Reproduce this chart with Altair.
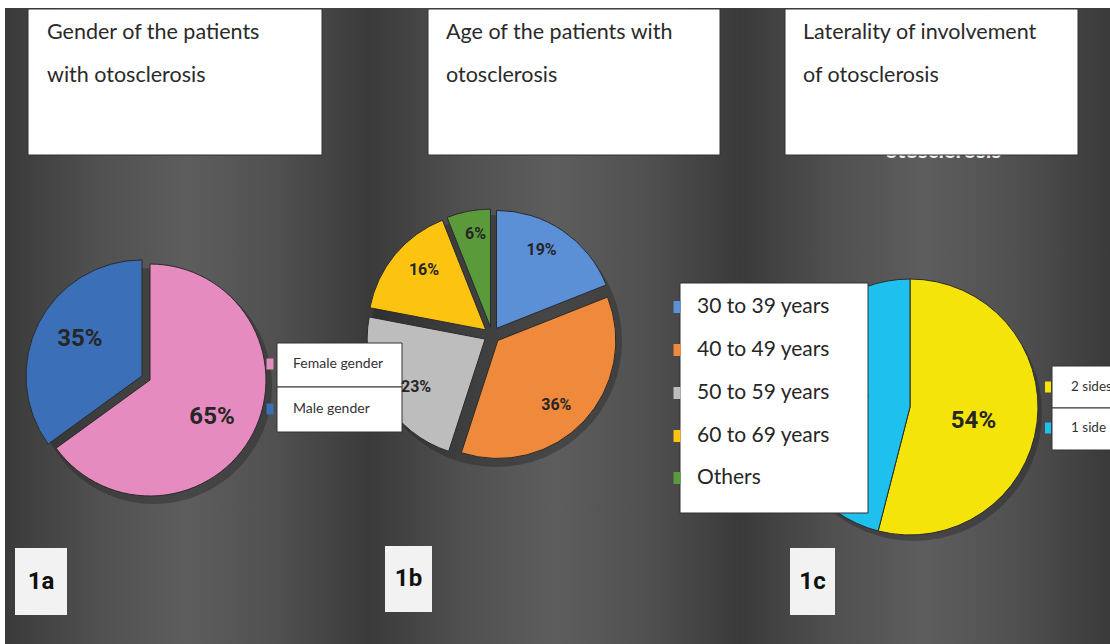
import altair as alt
import pandas as pd
import numpy as np

W, H = 1110, 644

# ---- data ----
gender_cats = ["Female gender", "Male gender"]
gender_vals = [65, 35]

age_cats = ["30 to 39 years", "40 to 49 years", "50 to 59 years", "60 to 69 years", "Others"]
age_vals = [19, 36, 23, 16, 6]

side_cats = ["2 sides", "1 side"]
side_vals = [54, 46]

titles = [["Gender of the patients", "with otosclerosis"],
          ["Age of the patients with", "otosclerosis"],
          ["Laterality of involvement", "of otosclerosis"]]
panel_tags = ["1a", "1b", "1c"]

# ---- styles ----
gender_colors = ["#e58bbf", "#3b6fb7"]
age_colors = ["#5b8fd6", "#ef893b", "#bdbdbd", "#fcc411", "#5a9a3a"]
side_colors = ["#f4e40a", "#1ec0ee"]

NARROW = "Roboto, sans-serif"
BODY = "Lato, Open Sans, sans-serif"

xs = alt.Scale(domain=[0, W], nice=False, zero=False)
ys = alt.Scale(domain=[H, 0], nice=False, zero=False)
ts = alt.Scale(domain=[0, 100], range=[0, 2 * np.pi])


def X(f):
    return alt.X(f, type="quantitative", scale=xs, axis=None)


def Y(f):
    return alt.Y(f, type="quantitative", scale=ys, axis=None)


def pie_df(cats, vals, cx, cy, r, explode, fx, fy):
    v = np.array(vals, dtype=float)
    end = np.cumsum(v)
    start = end - v
    mid = (start + end) / 2 / 100 * 2 * np.pi
    ex = np.array(explode, dtype=float)
    ox = cx + ex * np.sin(mid)
    oy = cy - ex * np.cos(mid)
    return pd.DataFrame({
        "cat": cats, "val": v, "start": start, "end": end,
        "cx": ox, "cy": oy,
        "lx": ox + fx * r * np.sin(mid), "ly": oy - fy * r * np.cos(mid),
        "label": [f"{int(x)}%" for x in v],
    })


def pie_layers(df, cats, colors, r, label_size=24):
    arc = alt.Chart(df).mark_arc(outerRadius=r, stroke="#2b2b2b", strokeWidth=1).encode(
        x=X("cx"), y=Y("cy"),
        theta=alt.Theta("start:Q", scale=ts), theta2="end:Q",
        color=alt.Color("cat:N", scale=alt.Scale(domain=cats, range=colors), legend=None),
    )
    lab = alt.Chart(df).mark_text(font=NARROW, fontWeight="bold", fontSize=label_size,
                                  color="#262626").encode(x=X("lx"), y=Y("ly"), text="label:N")
    return arc, lab


# ---- background panels ----
bg = pd.DataFrame({"x": [5, 370, 740], "x2": [370, 740, W], "y": [8, 8, 8], "y2": [H, H, H]})
grad = alt.Gradient(gradient="linear", x1=0, x2=1, y1=0, y2=0,
                    stops=[alt.GradientStop(color="#3a3a3a", offset=0),
                           alt.GradientStop(color="#505050", offset=0.25),
                           alt.GradientStop(color="#5d5d5d", offset=0.5),
                           alt.GradientStop(color="#505050", offset=0.75),
                           alt.GradientStop(color="#3a3a3a", offset=1)])
bg_layer = alt.Chart(bg).mark_rect(fill=grad).encode(x=X("x"), x2="x2", y=Y("y"), y2="y2")

# ghost text behind third title box
ghost = alt.Chart(pd.DataFrame({"x": [943], "y": [151], "t": ["otosclerosis"]})).mark_text(
    font=BODY, fontWeight="bold", fontSize=22, color="#f0f0f0").encode(x=X("x"), y=Y("y"), text="t:N")

# ---- title boxes ----
tb = pd.DataFrame({"x": [28, 428, 785], "x2": [322, 720, 1078], "y": [9, 9, 9], "y2": [155, 155, 155]})
tbox = alt.Chart(tb).mark_rect(fill="white", stroke="#333333", strokeWidth=1).encode(
    x=X("x"), x2="x2", y=Y("y"), y2="y2")
tt_rows = []
for i, lx in enumerate([47, 446, 803]):
    for j, line in enumerate(titles[i]):
        tt_rows.append({"x": lx, "y": 33 + 43 * j, "t": line})
ttext = alt.Chart(pd.DataFrame(tt_rows)).mark_text(
    font=BODY, fontSize=21.5, color="#2a2a2a", align="left", baseline="middle").encode(
    x=X("x"), y=Y("y"), text="t:N")

# ---- pies ----
R1, R2, R3 = 116, 118, 128
d1 = pie_df(gender_cats, gender_vals, 150, 380, R1, [0, 9], 0.60, 0.70)
d2 = pie_df(age_cats, age_vals, 492, 335, R2, [8, 8, 8, 8, 8], 0.68, 0.80)
d3 = pie_df(side_cats, side_vals, 910, 407, R3, [0, 0], 0.50, 0.90)

shadow_df = pd.DataFrame({"cx": [154, 496, 914], "cy": [386, 341, 413], "s": [0, 0, 0], "e": [100, 100, 100],
                          "r": [R1 + 2, R2 + 8, R3]})
shadows = alt.Chart(shadow_df).mark_arc(color="#1e1e1e", opacity=0.35).encode(
    x=X("cx"), y=Y("cy"), theta=alt.Theta("s:Q", scale=ts), theta2="e:Q",
    radius=alt.Radius("r:Q", scale=None))

a1, l1 = pie_layers(d1, gender_cats, gender_colors, R1, 24)
a2, l2 = pie_layers(d2, age_cats, age_colors, R2, 16)
a3, l3 = pie_layers(d3, side_cats, side_colors, R3, 24)

# ---- legends ----
# legend 1a
lg1_boxes = pd.DataFrame({"x": [277, 277], "x2": [402, 402], "y": [343, 387], "y2": [387, 432]})
lg1_box = alt.Chart(lg1_boxes).mark_rect(fill="white", stroke="#333333", strokeWidth=1).encode(
    x=X("x"), x2="x2", y=Y("y"), y2="y2")
lg1_items = pd.DataFrame({"cat": gender_cats, "y": [364, 409]})
lg1_sw = alt.Chart(lg1_items).mark_rect(width=7, height=11).encode(
    x=alt.value(270), y=Y("y"),
    color=alt.Color("cat:N", scale=alt.Scale(domain=gender_cats, range=gender_colors), legend=None))
lg1_tx = alt.Chart(lg1_items).mark_text(font=BODY, fontSize=14, color="#333333", align="left",
                                       baseline="middle").encode(x=alt.value(293), y=Y("y"), text="cat:N")

# legend 1b
lg2_box = alt.Chart(pd.DataFrame({"x": [680], "x2": [868], "y": [283], "y2": [513]})).mark_rect(
    fill="white", stroke="#333333", strokeWidth=1).encode(x=X("x"), x2="x2", y=Y("y"), y2="y2")
lg2_items = pd.DataFrame({"cat": age_cats, "y": [307, 350, 393, 436, 478]})
lg2_sw = alt.Chart(lg2_items).mark_rect(width=7, height=12).encode(
    x=alt.value(677), y=Y("y"),
    color=alt.Color("cat:N", scale=alt.Scale(domain=age_cats, range=age_colors), legend=None))
lg2_tx = alt.Chart(lg2_items).mark_text(font=BODY, fontSize=21, color="#262626", align="left",
                                       baseline="middle").encode(x=alt.value(697), y=Y("y"), text="cat:N")

# legend 1c
lg3_boxes = pd.DataFrame({"x": [1052, 1052], "x2": [1116, 1116], "y": [366, 408], "y2": [408, 450]})
lg3_box = alt.Chart(lg3_boxes).mark_rect(fill="white", stroke="#333333", strokeWidth=1).encode(
    x=X("x"), x2="x2", y=Y("y"), y2="y2")
lg3_items = pd.DataFrame({"cat": side_cats, "y": [387, 428]})
lg3_sw = alt.Chart(lg3_items).mark_rect(width=6, height=11).encode(
    x=alt.value(1048), y=Y("y"),
    color=alt.Color("cat:N", scale=alt.Scale(domain=side_cats, range=side_colors), legend=None))
lg3_tx = alt.Chart(lg3_items).mark_text(font=BODY, fontSize=13.5, color="#333333", align="left",
                                       baseline="middle").encode(x=alt.value(1071), y=Y("y"), text="cat:N")

# ---- panel tags ----
tags = pd.DataFrame({"x": [15, 385, 790], "x2": [67, 432, 835], "y": [548, 546, 548], "y2": [615, 612, 615],
                     "t": panel_tags})
tags["tx"] = (tags["x"] + tags["x2"]) / 2
tags["ty"] = (tags["y"] + tags["y2"]) / 2
tag_box = alt.Chart(tags).mark_rect(fill="#f2f2f2").encode(x=X("x"), x2="x2", y=Y("y"), y2="y2")
tag_tx = alt.Chart(tags).mark_text(font=NARROW, fontWeight="bold", fontSize=24, color="#111111",
                                  baseline="middle").encode(x=X("tx"), y=Y("ty"), text="t:N")

chart = alt.layer(
    bg_layer, ghost, tbox, ttext, shadows,
    a1, a2, a3, l3,
    lg1_box, lg1_sw, lg1_tx,
    lg2_box, lg2_sw, lg2_tx,
    lg3_box, lg3_sw, lg3_tx,
    l1, l2,
    tag_box, tag_tx,
).resolve_scale(color="independent").properties(
    width=W, height=H, padding=0, autosize=alt.AutoSizeParams(type="none"), background="white"
).configure_view(stroke=None)

chart.save("out.html", embed_options={"renderer": "svg", "actions": False})
